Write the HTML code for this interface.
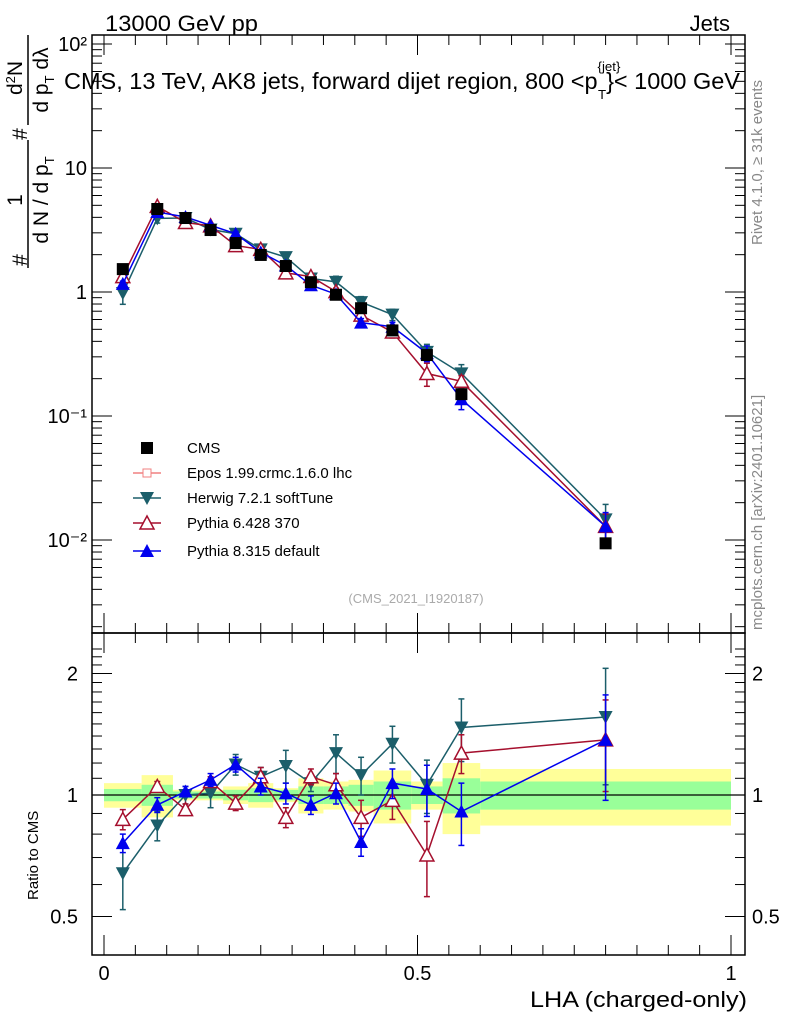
<!DOCTYPE html>
<html><head><meta charset="utf-8"><style>
body{margin:0;background:#fff;}
svg{display:block;font-family:"Liberation Sans",sans-serif;}
</style></head><body>
<svg id="c" width="786" height="1024" viewBox="0 0 786 1024">
<text x="105" y="31" font-size="22" textLength="153" lengthAdjust="spacingAndGlyphs">13000 GeV pp</text>
<text x="730" y="31" font-size="22" text-anchor="end">Jets</text>
<text x="64" y="89" font-size="23" textLength="676" lengthAdjust="spacingAndGlyphs">CMS, 13 TeV, AK8 jets, forward dijet region, 800 &lt;p<tspan font-size="13" dy="-18">{jet}</tspan><tspan font-size="13" dx="-22" dy="28">T</tspan><tspan dy="-10">}&lt; 1000 GeV</tspan></text>
<text transform="translate(762,245) rotate(-90)" font-size="15" fill="#888">Rivet 4.1.0, ≥ 31k events</text>
<text transform="translate(762,630) rotate(-90)" font-size="15" fill="#888">mcplots.cern.ch [arXiv:2401.10621]</text>
<g font-size="21">
<text transform="translate(27,260) rotate(-90)" text-anchor="middle">#</text>
<text transform="translate(22,200) rotate(-90)" text-anchor="middle">1</text>
<line x1="28" x2="28" y1="268" y2="140" stroke="#000" stroke-width="1.5"/>
<text transform="translate(48,200) rotate(-90)" text-anchor="middle">d N / d p<tspan font-size="13" dy="6">T</tspan></text>
<text transform="translate(27,134) rotate(-90)" text-anchor="middle">#</text>
<text transform="translate(22,78) rotate(-90)" text-anchor="middle">d<tspan font-size="13" dy="-7">2</tspan><tspan dy="7">N</tspan></text>
<line x1="28" x2="28" y1="125" y2="35" stroke="#000" stroke-width="1.5"/>
<text transform="translate(48,80) rotate(-90)" text-anchor="middle">d p<tspan font-size="13" dy="6">T</tspan><tspan dy="-6">  dλ</tspan></text>
</g>
<text transform="translate(38,900) rotate(-90)" font-size="15">Ratio to CMS</text>
<text x="416" y="603" font-size="13" fill="#aaa" text-anchor="middle">(CMS_2021_I1920187)</text>
<text x="530" y="1007" font-size="22" textLength="217" lengthAdjust="spacingAndGlyphs">LHA (charged-only)</text>
<g id="bands"></g><g id="axes"></g><g id="series"></g><g id="legend"></g>
</svg>
<script>
const binEdges=[0,0.06,0.11,0.15,0.19,0.23,0.27,0.31,0.35,0.39,0.43,0.49,0.54,0.6,1.0];
const xCenters=[0.03,0.085,0.13,0.17,0.21,0.25,0.29,0.33,0.37,0.41,0.46,0.515,0.57,0.8];
const cmsValues=[1.53,4.67,3.95,3.16,2.48,1.99,1.62,1.2,0.95,0.74,0.49,0.31,0.15,0.0094];
const bandYellow=[0.07,0.12,0.03,0.03,0.05,0.07,0.04,0.1,0.08,0.09,0.15,0.08,0.2,0.16];
const bandGreen=[0.035,0.06,0.02,0.02,0.03,0.04,0.03,0.05,0.05,0.06,0.08,0.05,0.1,0.08];
const herwigRatio=[0.64,0.84,1.0,1.01,1.19,1.11,1.18,1.07,1.27,1.12,1.34,1.06,1.47,1.56];
const herwigErr=[0.12,0.07,0.05,0.08,0.07,0.06,0.11,0.05,0.14,0.12,0.14,0.16,0.26,0.5];
const py6Ratio=[0.87,1.05,0.92,1.08,0.955,1.11,0.88,1.11,1.06,0.88,0.97,0.71,1.27,1.37];
const py6Err=[0.05,0.03,0.03,0.03,0.04,0.06,0.05,0.05,0.07,0.09,0.1,0.15,0.14,0.35];
const py8Ratio=[0.76,0.945,1.02,1.09,1.19,1.05,1.01,0.945,1.01,0.765,1.07,1.035,0.91,1.37];
const py8Err=[0.04,0.04,0.03,0.04,0.05,0.05,0.06,0.05,0.06,0.06,0.09,0.15,0.16,0.4];
const yTickLabels=["10²","10","1","10⁻¹","10⁻²"];
const ratioTicks=[2,1,0.5];
const xTicks=[0,0.5,1];

const NS="http://www.w3.org/2000/svg";
const X0=92,X1=745,Yt=35,Ym=633,Yb=955;
const xs=v=>104+627*v;
const ym=v=>292-124*Math.log10(v);
const yr=r=>795-121.5*Math.log2(r);
function mk(tag,at,parent){const e=document.createElementNS(NS,tag);for(const k in at)e.setAttribute(k,at[k]);parent.appendChild(e);return e;}
const B=document.getElementById('bands'),A=document.getElementById('axes'),S=document.getElementById('series'),L=document.getElementById('legend');
binEdges.slice(0,-1).forEach((e,i)=>{
 const x=xs(e),w=xs(binEdges[i+1])-x;
 let r=mk('rect',{x:x,y:yr(1+bandYellow[i]),width:w,height:yr(1-bandYellow[i])-yr(1+bandYellow[i]),fill:'#ffff99'},B);
 
 
 r=mk('rect',{x:x,y:yr(1+bandGreen[i]),width:w,height:yr(1-bandGreen[i])-yr(1+bandGreen[i]),fill:'#99ff99'},B);
 
 
});
[[Yt,Ym],[Ym,Yb]].forEach(p=>{const r=mk('rect',{x:X0,y:p[0],width:X1-X0,height:p[1]-p[0],fill:'none',stroke:'#000','stroke-width':1.5},A);

});
mk('line',{x1:X0,x2:X1,y1:yr(1),y2:yr(1),stroke:'#000','stroke-width':1.2},A);
for(let d=-3;d<=2;d++){for(let m=1;m<10;m++){const v=m*Math.pow(10,d);const y=ym(v);if(y<Yt||y>Ym)continue;const len=m==1?20:10;
 mk('line',{x1:X0,x2:X0+len,y1:y,y2:y,stroke:'#000'},A);mk('line',{x1:X1,x2:X1-len,y1:y,y2:y,stroke:'#000'},A);}}
yTickLabels.forEach((t,i)=>{const e=mk('text',{x:87,y:ym(Math.pow(10,2-i))+7,'font-size':20,'text-anchor':'end'},A);e.textContent=t;

});
for(let r=0.4;r<=2.31;r+=0.1){const y=yr(r);if(y<Ym||y>Yb)continue;const big=[0.5,1,2].some(v=>Math.abs(v-r)<1e-6);const len=big?20:10;
 mk('line',{x1:X0,x2:X0+len,y1:y,y2:y,stroke:'#000'},A);mk('line',{x1:X1,x2:X1-len,y1:y,y2:y,stroke:'#000'},A);}
ratioTicks.forEach(t=>{let e=mk('text',{x:78,y:yr(t)+7,'font-size':20,'text-anchor':'end'},A);e.textContent=String(t);


e=mk('text',{x:752,y:yr(t)+7,'font-size':20},A);e.textContent=String(t);

});
for(let i=0;i<=20;i++){const v=i*0.05,x=xs(v);const len=i%10==0?20:10;
 [[Yt,1],[Ym,1],[Ym,-1],[Yb,-1]].forEach(p=>mk('line',{x1:x,x2:x,y1:p[0],y2:p[0]+p[1]*len,stroke:'#000'},A));}
xTicks.forEach(t=>{const e=mk('text',{x:xs(t),y:980,'font-size':20,'text-anchor':'middle'},A);e.textContent=String(t);

});
function marker(type,x,y,col,g){
 if(type=='sq')return mk('rect',{x:x-6,y:y-6,width:12,height:12,fill:col},g);
 if(type=='down')return mk('polygon',{points:`${x-7},${y-6} ${x+7},${y-6} ${x},${y+7}`,fill:col},g);
 if(type=='up')return mk('polygon',{points:`${x-7},${y+6} ${x+7},${y+6} ${x},${y-7}`,fill:col},g);
 if(type=='upo')return mk('polygon',{points:`${x-7},${y+6} ${x+7},${y+6} ${x},${y-7}`,fill:'#fff',stroke:col,'stroke-width':1.5},g);
}
const models=[
 {name:'herwig',ratio:herwigRatio,err:herwigErr,col:'#1b5e6a',m:'down'},
 {name:'pythia6',ratio:py6Ratio,err:py6Err,col:'#a50f2d',m:'upo'},
 {name:'pythia8',ratio:py8Ratio,err:py8Err,col:'#0000ee',m:'up'}];
models.forEach(md=>{
 const g=mk('g',{},S);
 
 
 const mp=xCenters.map((x,i)=>[xs(x),ym(cmsValues[i]*md.ratio[i])]);
 const rp=xCenters.map((x,i)=>[xs(x),yr(md.ratio[i])]);
 mk('polyline',{points:mp.map(p=>p.join(',')).join(' '),fill:'none',stroke:md.col,'stroke-width':1.5},g);
 mk('polyline',{points:rp.map(p=>p.join(',')).join(' '),fill:'none',stroke:md.col,'stroke-width':1.5},g);
 xCenters.forEach((x,i)=>{
  const r=md.ratio[i],e=md.err[i],px=xs(x);
  [[ym(cmsValues[i]*(r-e)),ym(cmsValues[i]*(r+e))],[yr(r-e),yr(r+e)]].forEach(p=>{
   mk('line',{x1:px,x2:px,y1:p[0],y2:p[1],stroke:md.col,'stroke-width':1.5},g);
   mk('line',{x1:px-3,x2:px+3,y1:p[0],y2:p[0],stroke:md.col,'stroke-width':1.5},g);
   mk('line',{x1:px-3,x2:px+3,y1:p[1],y2:p[1],stroke:md.col,'stroke-width':1.5},g);});
  let mm=marker(md.m,px,mp[i][1],md.col,g);
  
  
  mm=marker(md.m,px,rp[i][1],md.col,g);
  
  
 });
});
const cg=mk('g',{},S);


xCenters.forEach((x,i)=>{const m=marker('sq',xs(x),ym(cmsValues[i]),'#000',cg);
 
 });
const legendLabels=["CMS","Epos 1.99.crmc.1.6.0 lhc","Herwig 7.2.1 softTune","Pythia 6.428 370","Pythia 8.315 default"];
const legendY=[448,473,498,523,551];
const lm=[['sq','#000'],['epos','#f08080'],['down','#1b5e6a'],['upo','#a50f2d'],['up','#0000ee']];
legendLabels.forEach((t,i)=>{
 const g=mk('g',{},L);
 
 
 const y=legendY[i];
 if(lm[i][0]=='epos'){mk('line',{x1:133,x2:161,y1:y,y2:y,stroke:'#f08080','stroke-width':1.5},g);mk('rect',{x:143,y:y-4,width:8,height:8,fill:'#fff',stroke:'#f08080'},g);}
 else{if(i>1)mk('line',{x1:133,x2:161,y1:y,y2:y,stroke:lm[i][1],'stroke-width':1.5},g);marker(lm[i][0],147,y,lm[i][1],g);}
 const e=mk('text',{x:187,y:y+5,'font-size':15},g);e.textContent=t;
});
</script>
</body></html>
